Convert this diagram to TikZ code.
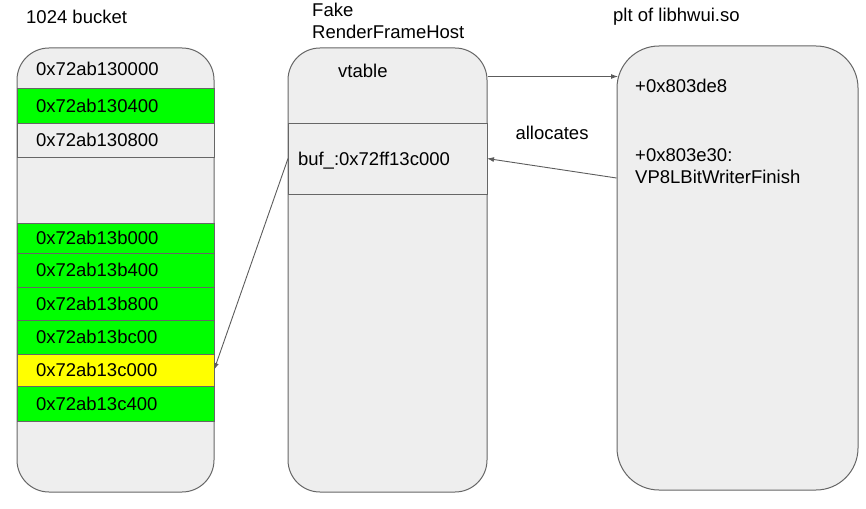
\documentclass[tikz,border=0pt]{standalone}
\usepackage{fontspec}
\setmainfont{Liberation Sans}
\usepackage{tikz}
\usetikzlibrary{positioning,arrows.meta,calc}
\definecolor{boxgray}{HTML}{EEEEEE}
\definecolor{edge}{HTML}{666666}
\definecolor{hgreen}{HTML}{00FF00}
\definecolor{hyellow}{HTML}{FFFF00}
\tikzset{
	col/.style={rectangle, rounded corners=32pt, draw=edge, fill=boxgray, line width=1pt, minimum height=444pt},
	row/.style={rectangle, draw=edge, fill=boxgray, line width=1pt, outer sep=0pt, minimum width=197pt, inner xsep=19pt, inner ysep=0pt, text width=159pt, align=left, text height=13.3pt, text depth=0pt, font=\fontsize{18.5}{22}\selectfont},
	txt/.style={inner sep=0pt, align=left, anchor=west, font=\fontsize{18.5}{22}\selectfont},
	link/.style={-{Latex[length=7pt,width=5pt]}, draw=edge!90!black, line width=0.9pt}
}
\begin{document}
\begin{tikzpicture}[x=1pt,y=-1pt]
\useasboundingbox (0,0) rectangle (866,508);
\node[txt] (BucketTitle) at (26,17) {1024 bucket};
\node[txt] (FrameTitle) at (312,21) {Fake\\RenderFrameHost};
\node[txt] (PltTitle) at (613,17) {plt of libhwui.so};

% bucket column
\node[col, minimum width=197pt] (Bucket) at (115.5,270) {};
\node[txt, text height=13.3pt, text depth=0pt] (B1) at (36,68.5) {0x72ab130000};
\node[row, fill=hgreen, minimum height=34pt, anchor=north] (B2) at (115.5,89) {0x72ab130400};
\node[row, minimum height=34pt] (B3) [below=0pt of B2] {0x72ab130800};
\node[row, fill=hgreen, minimum height=30pt, anchor=north] (B4) at (115.5,223) {0x72ab13b000};
\node[row, fill=hgreen, minimum height=34.4pt] (B5) [below=0pt of B4] {0x72ab13b400};
\node[row, fill=hgreen, minimum height=33pt] (B6) [below=0pt of B5] {0x72ab13b800};
\node[row, fill=hgreen, minimum height=33.6pt] (B7) [below=0pt of B6] {0x72ab13bc00};
\node[row, fill=hyellow, minimum height=32pt] (B8) [below=0pt of B7] {0x72ab13c000};
\node[row, fill=hgreen, minimum height=35.4pt] (B9) [below=0pt of B8] {0x72ab13c400};

% fake frame column
\node[col, minimum width=199pt] (Frame) at (387.5,270) {};
\node[txt, text height=13.3pt, text depth=0pt] (Vtable) at (338,71) {vtable};
\node[row, minimum width=199pt, inner xsep=10pt, text width=179pt, minimum height=71pt, anchor=north] (Buf) at (387.5,123) {buf\_:0x72ff13c000};

% plt column
\node[col, rounded corners=42pt, minimum width=241pt] (Plt) at (737.5,268) {};
\node[txt, text height=13.3pt, text depth=0pt] (P1) at (635,86) {+0x803de8};
\node[txt] (P2) at (635,166) {+0x803e30:\\VP8LBitWriterFinish};

\node[txt, anchor=center] (Alloc) at (552,133) {allocates};

\draw[link] ($(Frame.north east)+(0,29)$) -- ($(Plt.north west)+(1.5,31)$);
\draw[link] ($(Plt.west)+(0,-90)$) -- (Buf.east);
\draw[link] (Buf.west) -- (B8.east);
\end{tikzpicture}
\end{document}
